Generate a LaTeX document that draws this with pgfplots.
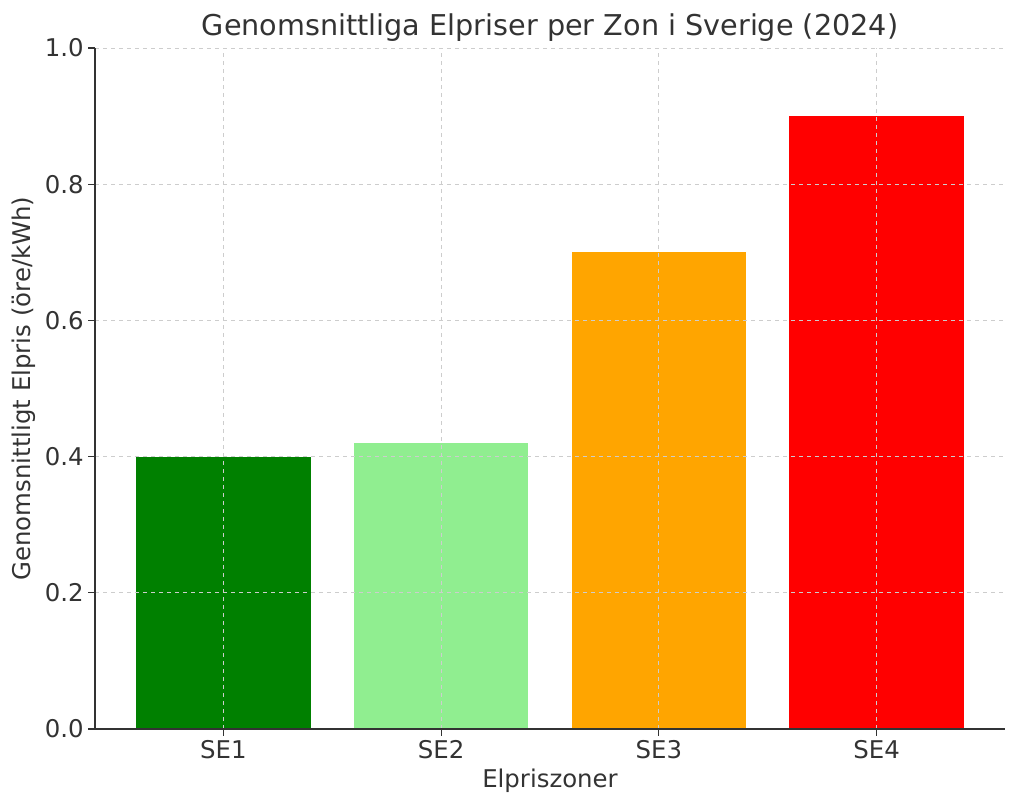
\documentclass[border=0pt]{standalone}
\usepackage{pgfplots}
\pgfplotsset{compat=1.18}
\usepackage{fontspec}
\setmainfont{DejaVu Sans}
\definecolor{txt}{RGB}{51,51,51}
\definecolor{gridc}{RGB}{205,205,205}
\definecolor{cse1}{RGB}{0,128,0}
\definecolor{cse2}{RGB}{144,238,144}
\definecolor{cse3}{RGB}{255,165,0}
\definecolor{cse4}{RGB}{255,0,0}
\begin{document}
\begin{tikzpicture}
\path[use as bounding box] (0pt,0pt) rectangle (768pt,607.5pt);
\begin{axis}[
  at={(71.25pt,60.75pt)}, anchor=south west,
  scale only axis, width=682.5pt, height=510.75pt,
  xmin=-0.59, xmax=3.59, ymin=0, ymax=1,
  axis x line*=bottom, axis y line*=left,
  axis line style={txt, line width=1.1pt, -},
  xtick={0,1,2,3}, xticklabels={SE1,SE2,SE3,SE4},
  ytick={0,0.2,0.4,0.6,0.8,1.0},
  yticklabel style={/pgf/number format/.cd, fixed, fixed zerofill, precision=1},
  /pgf/number format/assume math mode=true,
  ticklabel style={font=\fontsize{18.3}{21}\selectfont, text=txt},
  tick align=outside, major tick length=5pt,
  tick style={txt, line width=0.9pt},
  grid=major, major grid style={gridc, dashed, line width=0.7pt},
  axis on top,
  title={Genomsnittliga Elpriser per Zon i Sverige (2024)},
  title style={font=\fontsize{21.5}{25}\selectfont, text=txt, yshift=-5pt},
  xlabel={Elpriszoner},
  ylabel={Genomsnittligt Elpris (öre/kWh)},
  xlabel style={font=\fontsize{18.3}{21}\selectfont, text=txt, yshift=-1pt},
  ylabel style={font=\fontsize{18.3}{21}\selectfont, text=txt},
  ybar, bar width=0.8, bar shift=0pt,
]
\addplot[fill=cse1, draw=none] coordinates {(0,0.40)};
\addplot[fill=cse2, draw=none] coordinates {(1,0.42)};
\addplot[fill=cse3, draw=none] coordinates {(2,0.70)};
\addplot[fill=cse4, draw=none] coordinates {(3,0.90)};
\end{axis}
\end{tikzpicture}
\end{document}
